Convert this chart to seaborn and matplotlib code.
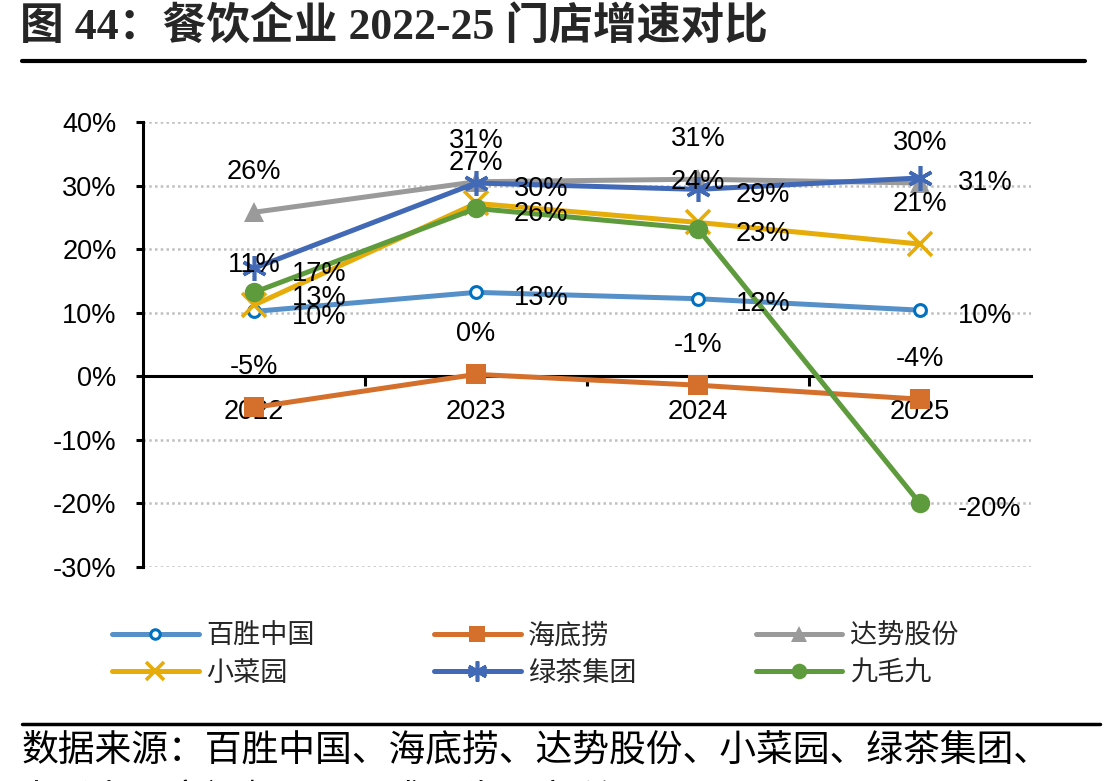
import matplotlib
matplotlib.use("Agg")
import matplotlib.pyplot as plt
import seaborn as sns
import numpy as np
import pandas as pd
from matplotlib.ticker import FuncFormatter, FixedLocator
from matplotlib.lines import Line2D

# ---------------- data ----------------
years = ["2022", "2023", "2024", "2025"]
yum_china = [10.2, 13.2, 12.2, 10.4]      # 百胜中国
haidilao = [-4.9, 0.3, -1.4, -3.6]        # 海底捞
dpc_dash = [25.8, 30.6, 31.0, 30.4]       # 达势股份
xiaocaiyuan = [11.2, 27.2, 24.2, 20.8]    # 小菜园
green_tea = [17.0, 30.4, 29.4, 31.2]      # 绿茶集团
jiumaojiu = [13.2, 26.4, 23.2, -20.0]     # 九毛九
series_names = ["百胜中国", "海底捞", "达势股份", "小菜园", "绿茶集团", "九毛九"]
y_ticks = [-30, -20, -10, 0, 10, 20, 30, 40]
title_text = "图 44：餐饮企业 2022-25 门店增速对比"
source_text = "数据来源：百胜中国、海底捞、达势股份、小菜园、绿茶集团、"
source_text2 = "九毛九、窄门餐眼、国盛证券研究所"

# ---------------- style ----------------
sns.set_theme(style="white")
plt.rcParams["font.family"] = ["Liberation Sans", "Noto Sans CJK SC", "DejaVu Sans"]
plt.rcParams["axes.unicode_minus"] = False

W, H = 1109, 781
fig = plt.figure(figsize=(W / 100, H / 100), dpi=100)
ax = fig.add_axes([143 / W, 1 - 567 / H, (1031 - 143) / W, (567 - 122) / H])

styles = {
    "百胜中国": dict(color="#5590C8", marker="o", ms=8.5, mfc="white", mec="#0070C0", mew=2.2),
    "海底捞": dict(color="#D46F2C", marker="s", ms=14, mfc="#D46F2C", mec="#D46F2C", mew=0),
    "达势股份": dict(color="#9A9A9A", marker="^", ms=14, mfc="#9A9A9A", mec="#9A9A9A", mew=0),
    "小菜园": dict(color="#E6AC0A", marker="x", ms=17, mfc="#E6AC0A", mec="#E6AC0A", mew=2.6),
    "绿茶集团": dict(color="#4169B5", marker=(6, 2, 0), ms=18, mfc="#4169B5", mec="#4169B5", mew=2.6),
    "九毛九": dict(color="#5E9B3C", marker="o", ms=14, mfc="#5E9B3C", mec="#5E9B3C", mew=0),
}
label_pos = {
    "百胜中国": "right", "海底捞": "above", "达势股份": "above",
    "小菜园": "above", "绿茶集团": "right", "九毛九": "right",
}
all_values = [yum_china, haidilao, dpc_dash, xiaocaiyuan, green_tea, jiumaojiu]
xpos = np.arange(len(years))

for name, vals in zip(series_names, all_values):
    st = styles[name]
    df = pd.DataFrame({"x": xpos, "y": vals})
    sns.lineplot(data=df, x="x", y="y", ax=ax, color=st["color"], linewidth=3.6,
                 marker=st["marker"], markersize=st["ms"], markerfacecolor=st["mfc"],
                 markeredgecolor=st["mec"], markeredgewidth=st["mew"], label=name,
                 solid_capstyle="round", zorder=3)

# data labels
for name, vals in zip(series_names, all_values):
    for xi, v in zip(xpos, vals):
        txt = f"{v:.0f}%"
        if label_pos[name] == "above":
            ax.annotate(txt, (xi, v), xytext=(0, 29), textcoords="offset points",
                        ha="center", va="center", fontsize=19.5, color="black", zorder=5)
        else:
            ax.annotate(txt, (xi, v), xytext=(27, -4), textcoords="offset points",
                        ha="left", va="center", fontsize=19.5, color="black", zorder=5)

# axes
ax.set_xlim(-0.5, 3.5)
ax.set_ylim(-30, 40)
ax.set_yticks(y_ticks)
ax.yaxis.set_major_formatter(FuncFormatter(lambda v, p: f"{v:.0f}%"))
ax.set_xticks(xpos)
ax.set_xticklabels(years)
ax.xaxis.set_minor_locator(FixedLocator([0.5, 1.5, 2.5]))
ax.set_xlabel("")
ax.set_ylabel("")

for s in ["top", "right"]:
    ax.spines[s].set_visible(False)
ax.spines["left"].set_color("black")
ax.spines["left"].set_linewidth(2.2)
ax.spines["bottom"].set_position(("data", 0))
ax.spines["bottom"].set_color("black")
ax.spines["bottom"].set_linewidth(2.2)
ax.spines["bottom"].set_zorder(2)

ax.tick_params(axis="y", which="major", direction="out", length=5, width=2.2, color="black",
               pad=14, labelsize=19.5, labelcolor="black", left=True)
ax.tick_params(axis="x", which="major", length=0, pad=16, labelsize=19.5, labelcolor="black")
ax.tick_params(axis="x", which="minor", direction="out", length=7, width=2.2, color="black", bottom=True)

ax.grid(False)
for yt in y_ticks:
    if yt != 0:
        ax.axhline(yt, color="#BFBFBF", linewidth=1.8, linestyle=(0, (1, 1.3)), zorder=1)

# legend
handles, labels = ax.get_legend_handles_labels()
order = [0, 3, 1, 4, 2, 5]
if ax.get_legend():
    ax.get_legend().remove()
leg = fig.legend([handles[i] for i in order], [labels[i] for i in order],
                 loc="center left", bbox_to_anchor=(112 / W, 1 - 655 / H), ncol=3,
                 frameon=False, fontsize=19.5, handlelength=3.2, handletextpad=0.28,
                 columnspacing=4.4, labelspacing=0.42, borderpad=0, borderaxespad=0,
                 markerscale=0.8)

# title, rules, source
fig.text(20 / W, 1 - 27 / H, title_text, ha="left", va="center", fontsize=31.5,
         fontweight="bold", family=["Liberation Serif", "Noto Sans CJK SC"])
fig.add_artist(Line2D([22 / W, 1085 / W], [1 - 61 / H, 1 - 61 / H], color="black", linewidth=3))
fig.add_artist(Line2D([22 / W, 1100 / W], [1 - 724 / H, 1 - 724 / H], color="black", linewidth=2.5))
fig.text(22 / W, 1 - 750 / H, source_text, ha="left", va="center", fontsize=26.5,
         family=["Noto Sans CJK SC"], color="black")
fig.text(22 / W, 1 - 781 / H, source_text2, ha="left", va="top", fontsize=26.5,
         family=["Noto Sans CJK SC"], color="black")

fig.savefig("out.png", dpi=100)
